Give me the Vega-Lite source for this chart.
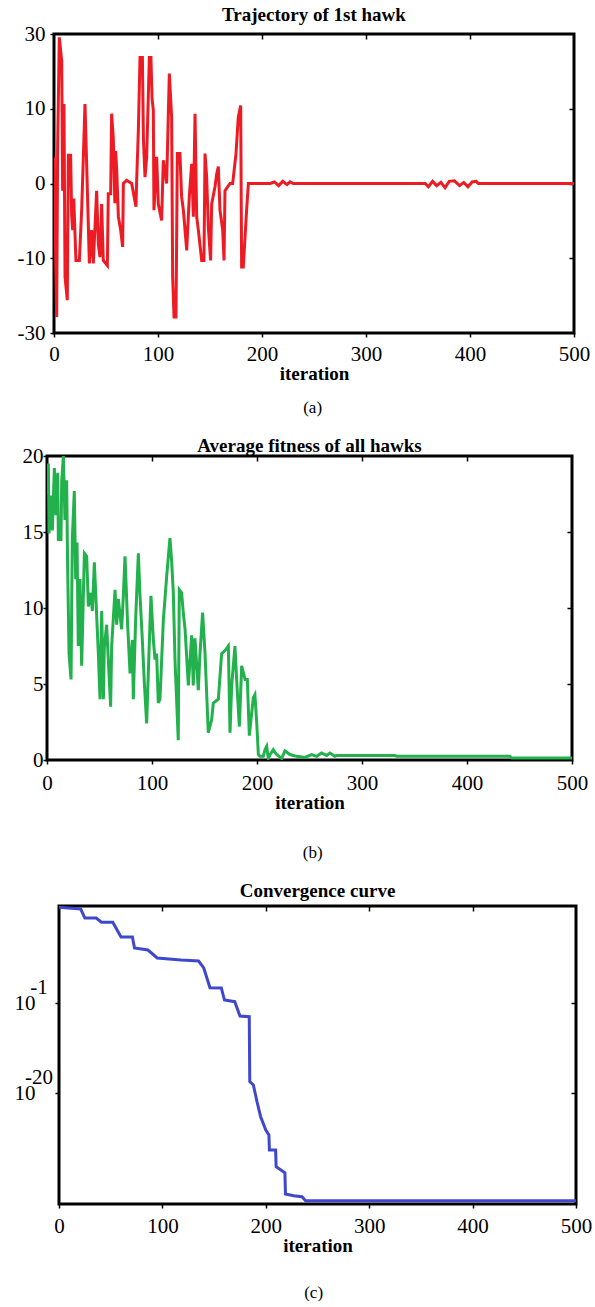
{
  "$schema": "https://vega.github.io/schema/vega-lite/v6.json",
  "background": "white",
  "padding": {"top": 4, "left": 0, "right": 0, "bottom": 0},
  "spacing": 19,
  "datasets": {
    "traj": [
      {"iteration": 0, "value": 2.8}, {"iteration": 1.2, "value": -6}, {"iteration": 2.6, "value": -24.5}, {"iteration": 3.5, "value": 4}, {"iteration": 5.1, "value": 28.8}, {"iteration": 7.4, "value": 21.2},
      {"iteration": 8.3, "value": -0.7}, {"iteration": 9.6, "value": 10.9}, {"iteration": 10.6, "value": -13.8}, {"iteration": 12.8, "value": -19.5},
      {"iteration": 13.8, "value": 3.0}, {"iteration": 16, "value": 3.0}, {"iteration": 17, "value": -3.5}, {"iteration": 18, "value": -5.4}, {"iteration": 19, "value": -1.5}, {"iteration": 21.1, "value": -10.4},
      {"iteration": 24.4, "value": -10.4}, {"iteration": 26.6, "value": -2.8}, {"iteration": 29.8, "value": 10.9}, {"iteration": 31.4, "value": 2.0},
      {"iteration": 34, "value": -11}, {"iteration": 36.2, "value": -5.4}, {"iteration": 37.8, "value": -11}, {"iteration": 41, "value": -0.7},
      {"iteration": 42.6, "value": -7.5}, {"iteration": 44.2, "value": -9.8}, {"iteration": 45.8, "value": -2.1}, {"iteration": 47.4, "value": -10.4},
      {"iteration": 51.3, "value": -11.4}, {"iteration": 52.2, "value": -1.0}, {"iteration": 54.5, "value": -1.0}, {"iteration": 55.4, "value": 9.1},
      {"iteration": 57, "value": 5.3}, {"iteration": 58.5, "value": -2}, {"iteration": 59.3, "value": 3.5}, {"iteration": 60.3, "value": 1.3}, {"iteration": 61.9, "value": -3.6}, {"iteration": 64.1, "value": -5.4},
      {"iteration": 66, "value": -8.0}, {"iteration": 66.7, "value": 0}, {"iteration": 69.9, "value": 0.3}, {"iteration": 74.7, "value": 0},
      {"iteration": 78.8, "value": -2.4}, {"iteration": 79.5, "value": 0.3}, {"iteration": 81.1, "value": 6.3}, {"iteration": 82.7, "value": 22.2},
      {"iteration": 85, "value": 22.2}, {"iteration": 86, "value": 5}, {"iteration": 87.5, "value": 0.6}, {"iteration": 89.1, "value": 2.8}, {"iteration": 91.7, "value": 22.2},
      {"iteration": 93.2, "value": 22.2}, {"iteration": 94.3, "value": 12}, {"iteration": 95.5, "value": 9.7}, {"iteration": 96.1, "value": -2.8}, {"iteration": 98.7, "value": 2.8},
      {"iteration": 100.3, "value": -2.1}, {"iteration": 103.5, "value": -4.1}, {"iteration": 105.1, "value": 2.4}, {"iteration": 108.3, "value": 0},
      {"iteration": 110.9, "value": 17.7}, {"iteration": 113.1, "value": 8.5}, {"iteration": 114.1, "value": -13.8}, {"iteration": 115.4, "value": -24.5},
      {"iteration": 117.3, "value": -24.5}, {"iteration": 118.6, "value": 3.2}, {"iteration": 121.1, "value": 3.2}, {"iteration": 122.7, "value": -1.3},
      {"iteration": 124.4, "value": -2.8}, {"iteration": 127.6, "value": -8.6}, {"iteration": 130.1, "value": -1.3}, {"iteration": 132.4, "value": 2.0},
      {"iteration": 134, "value": -3.6}, {"iteration": 135.6, "value": 9.1}, {"iteration": 137.2, "value": -3.6}, {"iteration": 138.8, "value": -5.4},
      {"iteration": 142, "value": -10.4}, {"iteration": 144.2, "value": -10.4}, {"iteration": 145.2, "value": 3.2}, {"iteration": 146.8, "value": 0.6},
      {"iteration": 148.4, "value": -5.0}, {"iteration": 150.6, "value": -10.4}, {"iteration": 151.6, "value": -2.1}, {"iteration": 154.8, "value": -0.3},
      {"iteration": 156.4, "value": 0.9}, {"iteration": 158, "value": 1.7}, {"iteration": 159.6, "value": -2.8}, {"iteration": 162.2, "value": -5.4},
      {"iteration": 163.5, "value": -10.4}, {"iteration": 164.4, "value": -0.7}, {"iteration": 169.2, "value": 0}, {"iteration": 171.8, "value": 0},
      {"iteration": 175, "value": 3.2}, {"iteration": 177.2, "value": 8.5}, {"iteration": 179.5, "value": 10.6}, {"iteration": 180.4, "value": -11.7},
      {"iteration": 182, "value": -11.7}, {"iteration": 185.2, "value": -2.8}, {"iteration": 186.9, "value": 0}, {"iteration": 208, "value": 0},
      {"iteration": 212, "value": 0.15}, {"iteration": 216, "value": -0.2}, {"iteration": 220, "value": 0.2}, {"iteration": 224, "value": -0.1},
      {"iteration": 227, "value": 0.15}, {"iteration": 230, "value": 0}, {"iteration": 357, "value": 0}, {"iteration": 360, "value": -0.3},
      {"iteration": 364, "value": 0.2}, {"iteration": 368, "value": -0.2}, {"iteration": 372, "value": 0.1}, {"iteration": 376, "value": -0.4},
      {"iteration": 380, "value": 0.2}, {"iteration": 385, "value": 0.25}, {"iteration": 390, "value": -0.2}, {"iteration": 394, "value": 0.1},
      {"iteration": 398, "value": -0.3}, {"iteration": 402, "value": 0.15}, {"iteration": 406, "value": 0.2}, {"iteration": 408, "value": 0},
      {"iteration": 500, "value": 0}
    ],
    "avg": [
      {"iteration": 0, "fitness": 17.5}, {"iteration": 1.3, "fitness": 19.5}, {"iteration": 1.9, "fitness": 14.9}, {"iteration": 3.8, "fitness": 17.4},
      {"iteration": 5.1, "fitness": 15.1}, {"iteration": 7, "fitness": 19.2}, {"iteration": 8.6, "fitness": 16.1}, {"iteration": 10.2, "fitness": 18.9},
      {"iteration": 10.8, "fitness": 14.5}, {"iteration": 13.3, "fitness": 14.5}, {"iteration": 14, "fitness": 18.3}, {"iteration": 15.6, "fitness": 20},
      {"iteration": 17.1, "fitness": 15.8}, {"iteration": 18.7, "fitness": 18.4}, {"iteration": 19.7, "fitness": 12.5}, {"iteration": 21, "fitness": 7.0},
      {"iteration": 22.9, "fitness": 5.3}, {"iteration": 24.1, "fitness": 14.5}, {"iteration": 26, "fitness": 17.7}, {"iteration": 27.3, "fitness": 11.9},
      {"iteration": 28.6, "fitness": 14.3}, {"iteration": 29.8, "fitness": 7.5}, {"iteration": 31.4, "fitness": 11.9}, {"iteration": 33, "fitness": 6.2},
      {"iteration": 35.6, "fitness": 13.6}, {"iteration": 37.8, "fitness": 13.4}, {"iteration": 39.4, "fitness": 10.1}, {"iteration": 41.9, "fitness": 11.0},
      {"iteration": 43.2, "fitness": 9.8}, {"iteration": 45.1, "fitness": 13.0}, {"iteration": 47.3, "fitness": 9.5}, {"iteration": 48.9, "fitness": 7.0},
      {"iteration": 50.5, "fitness": 4.0}, {"iteration": 52.1, "fitness": 9.8}, {"iteration": 53.7, "fitness": 4.0}, {"iteration": 54.6, "fitness": 7.4},
      {"iteration": 56.8, "fitness": 8.9}, {"iteration": 58.4, "fitness": 6.6}, {"iteration": 60.6, "fitness": 3.5}, {"iteration": 61.6, "fitness": 7.5},
      {"iteration": 64.8, "fitness": 11.2}, {"iteration": 66.4, "fitness": 8.9}, {"iteration": 67.9, "fitness": 10.6}, {"iteration": 71.1, "fitness": 8.6},
      {"iteration": 72.7, "fitness": 10.8}, {"iteration": 74.3, "fitness": 13.4}, {"iteration": 76.8, "fitness": 8.9}, {"iteration": 79.1, "fitness": 5.7},
      {"iteration": 81.3, "fitness": 7.9}, {"iteration": 82.2, "fitness": 4.0}, {"iteration": 84.5, "fitness": 9.4}, {"iteration": 87, "fitness": 13.6},
      {"iteration": 88.6, "fitness": 10.8}, {"iteration": 90.8, "fitness": 7.9}, {"iteration": 92.7, "fitness": 5.1}, {"iteration": 94.9, "fitness": 2.4},
      {"iteration": 97.1, "fitness": 7.0}, {"iteration": 99, "fitness": 10.8}, {"iteration": 101.3, "fitness": 7.9}, {"iteration": 102.9, "fitness": 6.6},
      {"iteration": 104.4, "fitness": 7.0}, {"iteration": 106, "fitness": 3.75}, {"iteration": 107.6, "fitness": 4.0}, {"iteration": 110.8, "fitness": 9.2},
      {"iteration": 114, "fitness": 12.1}, {"iteration": 117.1, "fitness": 14.6}, {"iteration": 118.7, "fitness": 13.1}, {"iteration": 120.3, "fitness": 11.0},
      {"iteration": 121.9, "fitness": 6.6}, {"iteration": 125, "fitness": 1.3}, {"iteration": 126, "fitness": 11.2}, {"iteration": 128.2, "fitness": 11.0},
      {"iteration": 129.8, "fitness": 9.7}, {"iteration": 131.5, "fitness": 8.6}, {"iteration": 134.6, "fitness": 4.9}, {"iteration": 137.8, "fitness": 8.2},
      {"iteration": 139.3, "fitness": 4.9}, {"iteration": 140.9, "fitness": 8.0}, {"iteration": 144.1, "fitness": 4.6}, {"iteration": 145.7, "fitness": 7.0},
      {"iteration": 148.2, "fitness": 9.7}, {"iteration": 150.5, "fitness": 7.0}, {"iteration": 153.6, "fitness": 1.8}, {"iteration": 156.8, "fitness": 2.65},
      {"iteration": 158.4, "fitness": 3.75}, {"iteration": 163.2, "fitness": 4.0}, {"iteration": 166.3, "fitness": 7.0}, {"iteration": 169.5, "fitness": 7.2},
      {"iteration": 172.7, "fitness": 7.5}, {"iteration": 174.3, "fitness": 1.8}, {"iteration": 175.9, "fitness": 4.9}, {"iteration": 179, "fitness": 7.5},
      {"iteration": 180.6, "fitness": 5.3}, {"iteration": 183.2, "fitness": 2.2}, {"iteration": 185.4, "fitness": 6.2}, {"iteration": 188.6, "fitness": 5.3},
      {"iteration": 190.8, "fitness": 5.3}, {"iteration": 192.7, "fitness": 1.6}, {"iteration": 196.5, "fitness": 4.1}, {"iteration": 198, "fitness": 4.3},
      {"iteration": 199.7, "fitness": 2.5}, {"iteration": 201.3, "fitness": 0.35}, {"iteration": 202.8, "fitness": 0.25}, {"iteration": 206, "fitness": 0.25},
      {"iteration": 207.6, "fitness": 0.68}, {"iteration": 209.2, "fitness": 0.9}, {"iteration": 210.8, "fitness": 0.1}, {"iteration": 212.4, "fitness": 0.35},
      {"iteration": 215.5, "fitness": 0.68}, {"iteration": 218.7, "fitness": 0.36}, {"iteration": 223.5, "fitness": 0.1}, {"iteration": 226.6, "fitness": 0.6},
      {"iteration": 231.4, "fitness": 0.36}, {"iteration": 237.7, "fitness": 0.24}, {"iteration": 245.7, "fitness": 0.17}, {"iteration": 252, "fitness": 0.36},
      {"iteration": 256.8, "fitness": 0.24}, {"iteration": 261.5, "fitness": 0.46}, {"iteration": 266.3, "fitness": 0.3}, {"iteration": 269.5, "fitness": 0.46},
      {"iteration": 274.2, "fitness": 0.24}, {"iteration": 275.8, "fitness": 0.3}, {"iteration": 331.4, "fitness": 0.3}, {"iteration": 333, "fitness": 0.24},
      {"iteration": 440.9, "fitness": 0.24}, {"iteration": 442.5, "fitness": 0.13}, {"iteration": 500, "fitness": 0.13}
    ],
    "conv": [
      {"iteration": 0, "best": 1.6e19}, {"iteration": 21, "best": 6.9e18}, {"iteration": 25, "best": 8.7e16}, {"iteration": 36, "best": 8.7e16},
      {"iteration": 41, "best": 1.1e16}, {"iteration": 52, "best": 1.1e16}, {"iteration": 60, "best": 8.5e12}, {"iteration": 71, "best": 8.5e12},
      {"iteration": 73, "best": 4.1e10}, {"iteration": 86, "best": 1.55e10}, {"iteration": 95, "best": 3.2e8}, {"iteration": 118, "best": 1.2e8},
      {"iteration": 135, "best": 7.4e7}, {"iteration": 140, "best": 2.5e6}, {"iteration": 146, "best": 170}, {"iteration": 157, "best": 148},
      {"iteration": 160, "best": 0.43}, {"iteration": 170, "best": 0.19}, {"iteration": 175, "best": 1.8e-4}, {"iteration": 184, "best": 1.3e-4},
      {"iteration": 184.5, "best": 2.5e-18}, {"iteration": 188, "best": 5e-19}, {"iteration": 191.5, "best": 1.4e-22}, {"iteration": 195, "best": 1e-25},
      {"iteration": 200, "best": 1.5e-28}, {"iteration": 203, "best": 1.35e-29}, {"iteration": 203.5, "best": 9.3e-33}, {"iteration": 209.5, "best": 9.3e-33},
      {"iteration": 210, "best": 2.8e-36}, {"iteration": 218.5, "best": 1.5e-37}, {"iteration": 219, "best": 4.8e-42}, {"iteration": 227, "best": 2.1e-42},
      {"iteration": 235, "best": 1.3e-42}, {"iteration": 238.5, "best": 1.8e-43}, {"iteration": 500, "best": 1.8e-43}
    ],
    "none": []
  },
  "vconcat": [
    {
      "title": {"text": "(a)", "orient": "bottom", "fontSize": 17, "fontWeight": "normal", "offset": 15, "frame": "bounds", "anchor": "middle", "dx": 17},
      "spacing": 0,
      "hconcat": [
        {"width": 8, "height": 10, "data": {"name": "none"}, "mark": "point", "view": {"stroke": null}},
        {
          "title": {"text": "Trajectory of 1st hawk", "offset": -2},
          "width": 520,
          "height": 299,
          "data": {"name": "traj"},
          "layer": [
            {
              "mark": {"type": "line", "color": "#ed1c24", "strokeWidth": 3, "clip": true},
              "encoding": {
                "x": {"field": "iteration", "type": "quantitative", "scale": {"domain": [0, 500], "nice": false},
                      "axis": {"values": [0, 100, 200, 300, 400, 500], "title": "iteration", "labelPadding": 6}},
                "y": {"field": "value", "type": "quantitative", "scale": {"type": "symlog", "constant": 10, "domain": [-30, 30], "nice": false, "zero": false},
                      "axis": {"values": [-30, -10, 0, 10, 30], "title": null, "labelPadding": 5, "minExtent": 44, "maxExtent": 44,
                               "labelExpr": "replace(datum.label, '\u2212', '-')"}}
              }
            },
            {
              "mark": {"type": "line", "strokeOpacity": 0, "clip": true},
              "encoding": {
                "x": {"field": "iteration", "type": "quantitative",
                      "axis": {"orient": "top", "values": [100, 200, 300, 400], "labels": false, "title": null, "tickSize": -5, "minExtent": 0, "maxExtent": 0}},
                "y": {"field": "value", "type": "quantitative",
                      "axis": {"orient": "right", "values": [-10, 0, 10], "labels": false, "title": null, "tickSize": -5, "minExtent": 0, "maxExtent": 0}}
              }
            }
          ],
          "resolve": {"axis": {"x": "independent", "y": "independent"}}
        }
      ]
    },
    {
      "title": {"text": "(b)", "orient": "bottom", "fontSize": 17, "fontWeight": "normal", "offset": 31, "frame": "bounds", "anchor": "middle", "dx": 18},
      "spacing": 0,
      "hconcat": [
        {"width": 1, "height": 10, "data": {"name": "none"}, "mark": "point", "view": {"stroke": null}},
        {
          "title": {"text": "Average fitness of all hawks", "offset": -11},
          "width": 525,
          "height": 304,
          "data": {"name": "avg"},
          "layer": [
            {
              "mark": {"type": "line", "color": "#22b14c", "strokeWidth": 3, "clip": true},
              "encoding": {
                "x": {"field": "iteration", "type": "quantitative", "scale": {"domain": [0, 500], "nice": false},
                      "axis": {"values": [0, 100, 200, 300, 400, 500], "title": "iteration", "labelPadding": 8.5}},
                "y": {"field": "fitness", "type": "quantitative", "scale": {"domain": [0, 20], "nice": false},
                      "axis": {"values": [0, 5, 10, 15, 20], "title": null, "labelPadding": 0, "minExtent": 44, "maxExtent": 44}}
              }
            },
            {
              "mark": {"type": "line", "strokeOpacity": 0, "clip": true},
              "encoding": {
                "x": {"field": "iteration", "type": "quantitative",
                      "axis": {"orient": "top", "values": [100, 200, 300, 400], "labels": false, "title": null, "tickSize": -5, "minExtent": 0, "maxExtent": 0}},
                "y": {"field": "fitness", "type": "quantitative",
                      "axis": {"orient": "right", "values": [5, 10, 15], "labels": false, "title": null, "tickSize": -5, "minExtent": 0, "maxExtent": 0}}
              }
            }
          ],
          "resolve": {"axis": {"x": "independent", "y": "independent"}}
        }
      ]
    },
    {
      "title": {"text": "(c)", "orient": "bottom", "fontSize": 17, "fontWeight": "normal", "offset": 28, "frame": "bounds", "anchor": "middle", "dx": 17},
      "spacing": 0,
      "hconcat": [
        {"width": 12, "height": 10, "data": {"name": "none"}, "mark": "point", "view": {"stroke": null}},
        {
          "title": {"text": "Convergence curve", "offset": 4},
          "width": 517,
          "height": 298,
          "data": {"name": "conv"},
          "layer": [
            {
              "mark": {"type": "line", "color": "#3f48cc", "strokeWidth": 3, "clip": true},
              "encoding": {
                "x": {"field": "iteration", "type": "quantitative", "scale": {"domain": [0, 500], "nice": false},
                      "axis": {"values": [0, 100, 200, 300, 400, 500], "title": "iteration", "labelPadding": 7.5}},
                "y": {"field": "best", "type": "quantitative", "scale": {"type": "log", "domain": [3.7e-44, 3.0e19], "nice": false},
                      "axis": {"values": [0.1, 1e-20], "title": null, "labelPadding": 41, "labelAlign": "left", "minExtent": 44, "maxExtent": 44,
                               "labelLineHeight": 16, "labelOffset": -16,
                               "labelExpr": "datum.value > 0.001 ? ['\u200b\u00a0\u00a0\u00a0-1', '10'] : ['\u200b\u00a0\u00a0-20', '10']"}}
              }
            },
            {
              "mark": {"type": "line", "strokeOpacity": 0, "clip": true},
              "encoding": {
                "x": {"field": "iteration", "type": "quantitative",
                      "axis": {"orient": "top", "values": [100, 200, 300, 400], "labels": false, "title": null, "tickSize": -5, "minExtent": 0, "maxExtent": 0}},
                "y": {"field": "best", "type": "quantitative",
                      "axis": {"orient": "right", "values": [0.1, 1e-20], "labels": false, "title": null, "tickSize": -5, "minExtent": 0, "maxExtent": 0}}
              }
            }
          ],
          "resolve": {"axis": {"x": "independent", "y": "independent"}}
        }
      ]
    }
  ],
  "config": {
    "font": "Liberation Serif",
    "view": {"stroke": "black", "strokeWidth": 3},
    "title": {"font": "Liberation Serif", "fontSize": 19, "fontWeight": "bold", "color": "black", "anchor": "middle", "frame": "group"},
    "axis": {
      "grid": false, "domain": false, "labelFlush": false,
      "ticks": true, "tickColor": "black", "tickSize": 4, "tickWidth": 1.5,
      "labelFont": "Liberation Serif", "labelFontSize": 21, "labelColor": "black",
      "titleFont": "Liberation Serif", "titleFontSize": 19, "titleFontWeight": "bold", "titleColor": "black", "titlePadding": 0
    }
  }
}
